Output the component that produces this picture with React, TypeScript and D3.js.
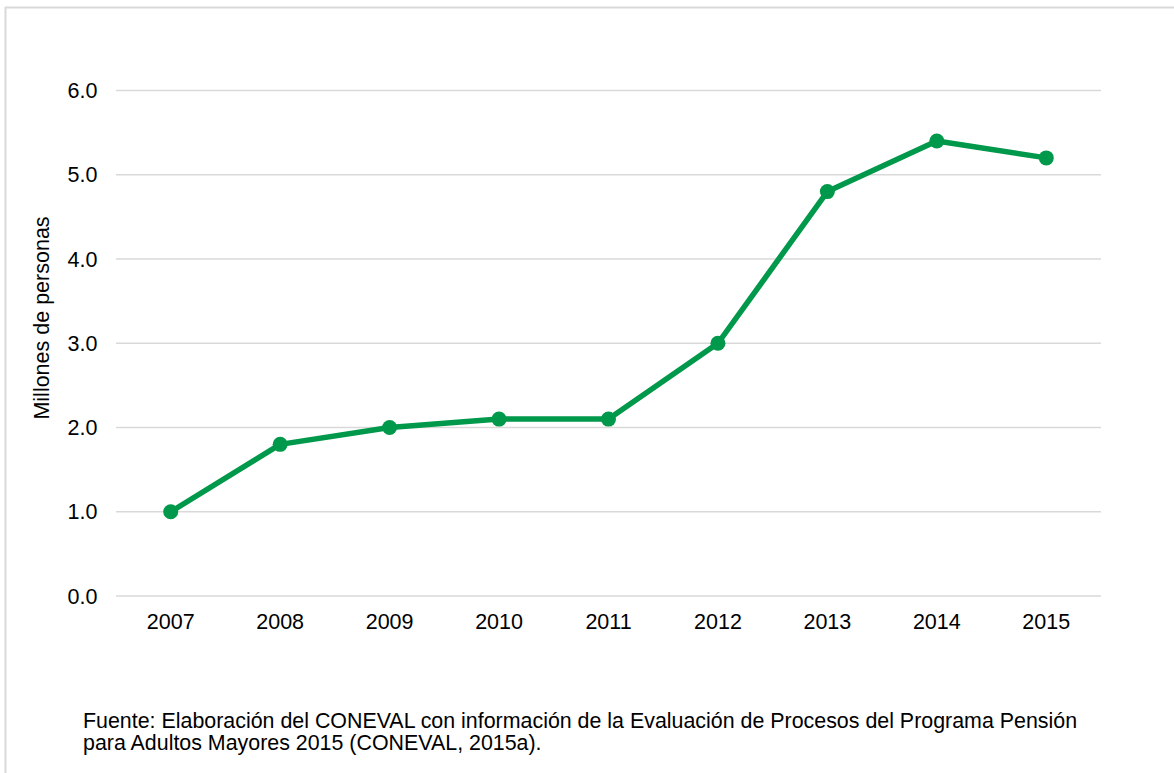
import React, { useEffect, useRef } from "react";
import * as d3 from "d3";

const years = ["2007", "2008", "2009", "2010", "2011", "2012", "2013", "2014", "2015"];
const personas = [1.0, 1.8, 2.0, 2.1, 2.1, 3.0, 4.8, 5.4, 5.2];
const yTicks = [0, 1, 2, 3, 4, 5, 6];
const yTitle = "Millones de personas";
const fuente = [
  "Fuente: Elaboración del CONEVAL con información de la Evaluación de Procesos del Programa Pensión",
  "para Adultos Mayores 2015 (CONEVAL, 2015a).",
];

const W = 1174;
const H = 773;
const green = "#00984A";
const font = "'Liberation Sans', Arial, sans-serif";
const fs = "21.5px";

export default function App() {
  const ref = useRef<SVGSVGElement>(null);

  useEffect(() => {
    const svg = d3.select(ref.current);
    svg.selectAll("*").remove();

    // frame (only top and left edges show)
    svg.append("line").attr("x1", 5).attr("y1", 7.5).attr("x2", W).attr("y2", 7.5)
      .attr("stroke", "#d9d9d9").attr("stroke-width", 2);
    svg.append("line").attr("x1", 5.5).attr("y1", 7).attr("x2", 5.5).attr("y2", H)
      .attr("stroke", "#d9d9d9").attr("stroke-width", 2);

    const x = d3.scaleBand().domain(years).range([116, 1101]);
    const y = d3.scaleLinear().domain([0, 6]).range([596, 90.5]);

    // gridlines
    svg.append("g").selectAll("line").data(yTicks).join("line")
      .attr("x1", 116).attr("x2", 1101)
      .attr("y1", d => y(d)).attr("y2", d => y(d))
      .attr("stroke", "#d9d9d9").attr("stroke-width", 1.5);

    // y labels
    svg.append("g").selectAll("text").data(yTicks).join("text")
      .attr("x", 97.5).attr("y", d => y(d)).attr("dy", "0.36em")
      .attr("text-anchor", "end")
      .style("font-family", font).style("font-size", fs).attr("fill", "#000")
      .text(d => d.toFixed(1));

    // x labels
    svg.append("g").selectAll("text").data(years).join("text")
      .attr("x", d => x(d)! + x.bandwidth() / 2).attr("y", 628.5)
      .attr("text-anchor", "middle")
      .style("font-family", font).style("font-size", fs).attr("fill", "#000")
      .text(d => d);

    // y title
    svg.append("text")
      .attr("transform", `translate(49,318) rotate(-90)`)
      .attr("text-anchor", "middle")
      .style("font-family", font).style("font-size", fs).attr("fill", "#000")
      .text(yTitle);

    const pts = years.map((yr, i) => [x(yr)! + x.bandwidth() / 2, y(personas[i])] as [number, number]);

    svg.append("path")
      .attr("d", d3.line()(pts))
      .attr("fill", "none").attr("stroke", green).attr("stroke-width", 5.5)
      .attr("stroke-linejoin", "round");

    svg.append("g").selectAll("circle").data(pts).join("circle")
      .attr("cx", d => d[0]).attr("cy", d => d[1]).attr("r", 7.5)
      .attr("fill", green);

    // source note
    svg.append("g").selectAll("text").data(fuente).join("text")
      .attr("x", 83).attr("y", (d, i) => 728 + i * 22)
      .style("font-family", font).style("font-size", "21.4px").attr("fill", "#000")
      .text(d => d);
  }, []);

  return (
    <div style={{ position: "absolute", left: 0, top: 0 }}>
      <svg ref={ref} width={W} height={H} style={{ display: "block", background: "#fff" }} />
    </div>
  );
}
